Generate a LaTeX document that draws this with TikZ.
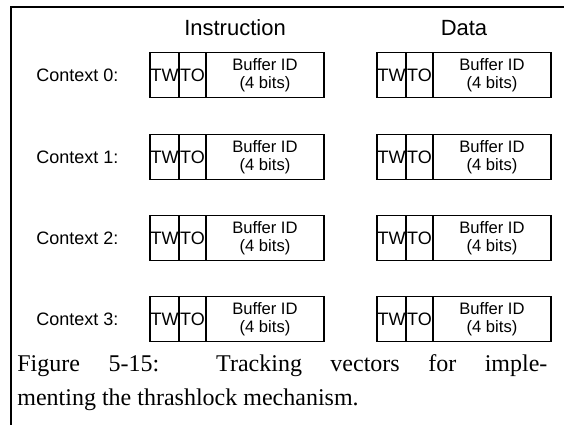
\documentclass[tikz,border=0pt]{standalone}
\usepackage{fontspec}
\setmainfont{Liberation Serif}
\setsansfont{Liberation Sans}
\usetikzlibrary{positioning}

\tikzset{
    field/.style={draw, line width=0.8pt, minimum height=22.5pt, inner sep=0pt,
                  outer sep=0pt, align=center,
                  font=\sffamily\fontsize{8.3}{8.8}\selectfont},
    twfield/.style={field, minimum width=14.5pt, font=\sffamily\fontsize{9}{9}\selectfont},
    tofield/.style={field, minimum width=13.5pt, font=\sffamily\fontsize{9}{9}\selectfont},
    buffield/.style={field, minimum width=59pt},
    head/.style={font=\sffamily\fontsize{11}{13}\selectfont},
    ctxlabel/.style={anchor=west, inner sep=0pt,
                     font=\sffamily\fontsize{9}{11}\selectfont}
}

\begin{document}
\begin{tikzpicture}[x=0.5pt, y=-0.5pt]
    \useasboundingbox (0,0) rectangle (564,425);
    % frame
    \coordinate (frameright) at (564,7);
    \coordinate (framecorner) at (11,7);
    \coordinate (framebottom) at (11,425);
    \draw[line width=0.75pt] (frameright) -- (framecorner) -- (framebottom);

    \node[head] (instr) at (235,28) {Instruction};
    \node[head] (data) at (464,28) {Data};

    \foreach \r/\y in {0/75, 1/157, 2/238, 3/319} {
        \node[ctxlabel] (ctx\r) at (36,\y) {Context \r:};
        % instruction vector
        \node[twfield, anchor=west] (twI\r) at (150,\y) {TW};
        \node[tofield, right=0pt of twI\r] (toI\r) {TO};
        \node[buffield, right=0pt of toI\r] (bufI\r) {Buffer ID\\(4 bits)};
        % data vector
        \node[twfield, anchor=west] (twD\r) at (377,\y) {TW};
        \node[tofield, right=0pt of twD\r] (toD\r) {TO};
        \node[buffield, right=0pt of toD\r] (bufD\r) {Buffer ID\\(4 bits)};
    }

    \node[anchor=base west, inner sep=0pt, align=left,
          font=\fontsize{12}{17}\selectfont] (caption) at (17,405)
        {\makebox[265pt][s]{Figure 5-15:\ \ Tracking vectors for imple-}\\
         menting the thrashlock mechanism.};
\end{tikzpicture}
\end{document}
